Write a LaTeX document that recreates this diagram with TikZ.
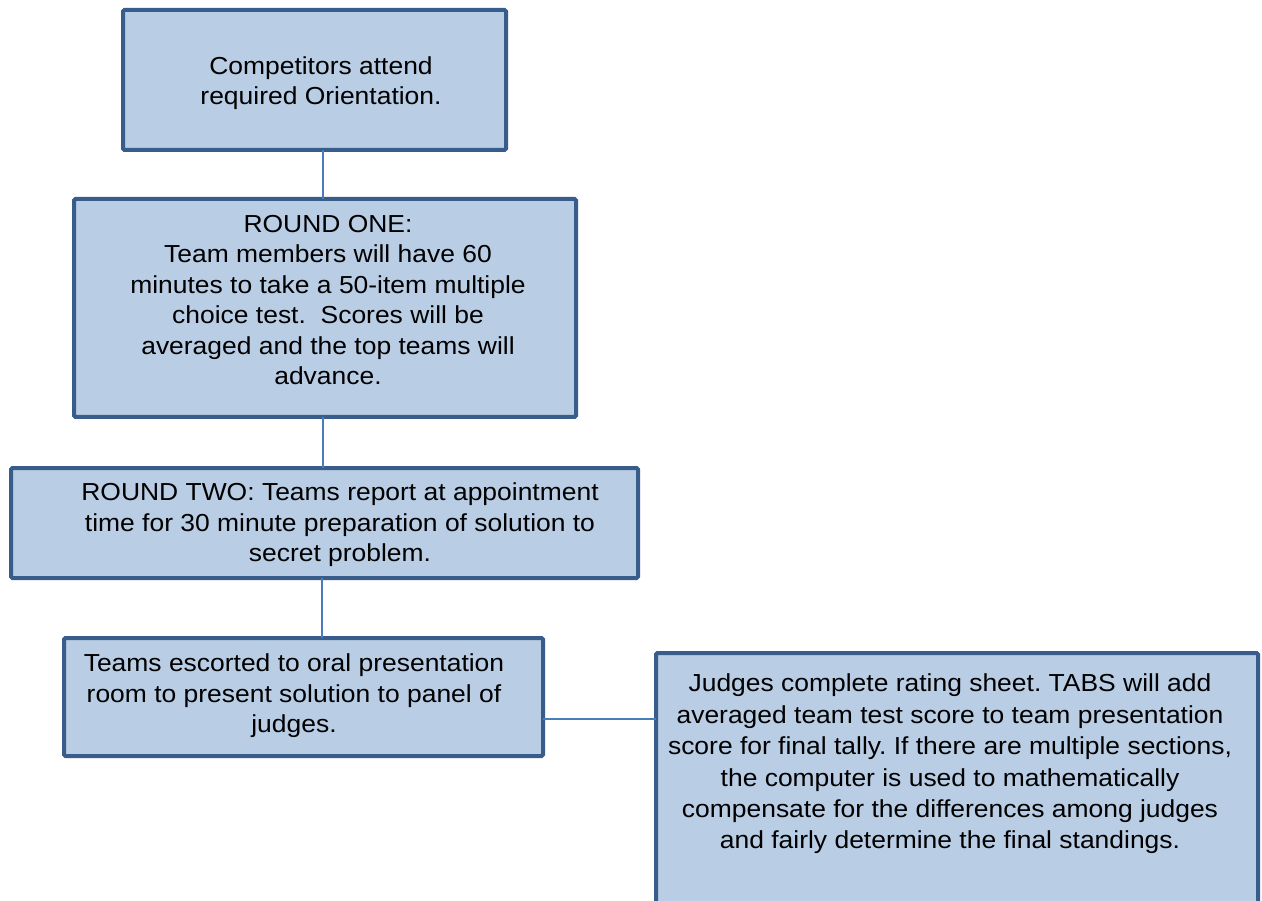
\documentclass[tikz,border=0pt]{standalone}
\usepackage{fontspec}
\setmainfont{Liberation Sans}[FakeStretch=1.075]
\frenchspacing
\definecolor{boxfill}{HTML}{B9CDE5}
\definecolor{boxdraw}{HTML}{385D8A}
\definecolor{linkcol}{HTML}{4A7EBB}
\tikzset{
  stepbox/.style={draw=boxdraw, fill=boxfill, line width=4pt, rounded corners=1.5pt, inner sep=0pt, outer sep=0pt},
  boxtext/.style={align=center, inner sep=0pt, font=\fontsize{24.6}{30.4}\selectfont},
  link/.style={draw=linkcol, line width=1.3pt}
}
\begin{document}
\begin{tikzpicture}[x=1pt,y=-1pt]
\clip (0,0) rectangle (1262,901);
\fill[white] (0,0) rectangle (1262,901);
\node[stepbox, minimum width=383pt, minimum height=140pt] (b1) at (314.5,80) {};
\node[stepbox, minimum width=502pt, minimum height=218pt] (b2) at (325,308) {};
\node[stepbox, minimum width=627pt, minimum height=110pt] (b3) at (324.5,523) {};
\node[stepbox, minimum width=479pt, minimum height=118pt] (b4) at (303.5,697) {};
\node[stepbox, minimum width=602pt, minimum height=307pt] (b5) at (957,806.5) {};
\node[boxtext, font=\fontsize{24.6}{30}\selectfont] (t1) at (321,83) {Competitors attend\\required Orientation.};
\node[boxtext] (t2) at (328,300) {ROUND ONE:\\Team members will have 60\\minutes to take a 50-item multiple\\choice test.\ \ Scores will be\\averaged and the top teams will\\advance.};
\node[boxtext] (t3) at (340,525) {ROUND TWO: Teams report at appointment\\time for 30 minute preparation of solution to\\secret problem.};
\node[boxtext] (t4) at (294,696) {Teams escorted to oral presentation\\room to present solution to panel of\\judges.};
\node[boxtext, font=\fontsize{24.6}{31.4}\selectfont] (t5) at (950,764) {Judges complete rating sheet. TABS will add\\averaged team test score to team presentation\\score for final tally. If there are multiple sections,\\the computer is used to mathematically\\compensate for the differences among judges\\and fairly determine the final standings.};
\draw[link] (b1.south -| 323,0) -- (b2.north -| 323,0);
\draw[link] (b2.south -| 323,0) -- (b3.north -| 323,0);
\draw[link] (b3.south -| 322,0) -- (b4.north -| 322,0);
\draw[link] (b4.east |- 0,719) -- (b5.west |- 0,719);
\end{tikzpicture}
\end{document}
